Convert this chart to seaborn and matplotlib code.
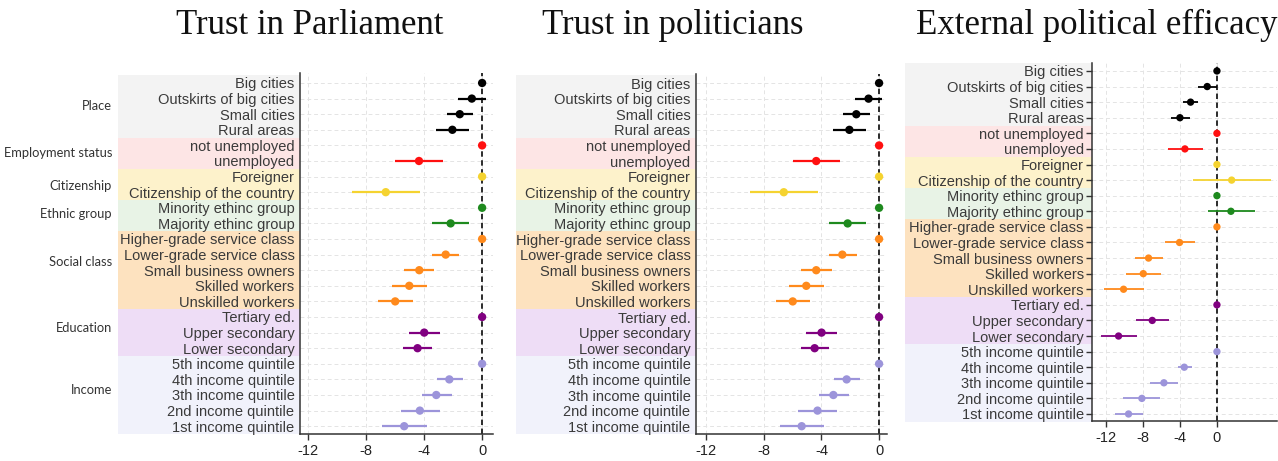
import matplotlib
matplotlib.use("Agg")
import pandas as pd
import matplotlib.pyplot as plt
import matplotlib.transforms as mtransforms
import seaborn as sns

# Row labels (top to bottom) and the group each row belongs to
categories = ["Big cities", "Outskirts of big cities", "Small cities", "Rural areas",
              "not unemployed", "unemployed",
              "Foreigner", "Citizenship of the country",
              "Minority ethinc group", "Majority ethinc group",
              "Higher-grade service class", "Lower-grade service class",
              "Small business owners", "Skilled workers", "Unskilled workers",
              "Tertiary ed.", "Upper secondary", "Lower secondary",
              "5th income quintile", "4th income quintile", "3th income quintile",
              "2nd income quintile", "1st income quintile"]
group_names = ["Place", "Employment status", "Citizenship", "Ethnic group",
               "Social class", "Education", "Income"]
group_sizes = [4, 2, 2, 2, 5, 3, 5]
groups = [g for g, n in zip(group_names, group_sizes) for _ in range(n)]

# Trust in Parliament
parl_est = [0, -0.71, -1.54, -2.05, 0, -4.35, 0, -6.64, 0, -2.17, 0, -2.51, -4.33, -5.02, -5.99,
            0, -3.99, -4.45, 0, -2.26, -3.16, -4.29, -5.37]
parl_lo = [0, -1.64, -2.44, -3.18, 0, -5.99, 0, -8.94, 0, -3.46, 0, -3.48, -5.39, -6.24, -7.19,
           0, -5.07, -5.44, 0, -3.13, -4.17, -5.62, -6.91]
parl_hi = [0, 0.25, -0.65, -0.92, 0, -2.70, 0, -4.29, 0, -0.90, 0, -1.57, -3.29, -3.80, -4.79,
           0, -2.88, -3.46, 0, -1.34, -2.10, -2.88, -3.82]

# Trust in politicians
pol_est = [0, -0.73, -1.58, -2.06, 0, -4.36, 0, -6.61, 0, -2.18, 0, -2.55, -4.36, -5.05, -5.99,
           0, -3.99, -4.47, 0, -2.25, -3.17, -4.27, -5.37]
pol_lo = [0, -1.65, -2.48, -3.17, 0, -5.96, 0, -8.94, 0, -3.44, 0, -3.49, -5.39, -6.24, -7.18,
          0, -5.05, -5.41, 0, -3.12, -4.17, -5.62, -6.88]
pol_hi = [0, 0.23, -0.64, -0.92, 0, -2.71, 0, -4.27, 0, -0.92, 0, -1.56, -3.28, -3.81, -4.77,
          0, -2.94, -3.49, 0, -1.35, -2.11, -2.90, -3.85]

# External political efficacy
eff_est = [0, -1.05, -2.85, -4.00, 0, -3.46, 0, 1.59, 0, 1.51, 0, -4.04, -7.39, -7.96, -10.09,
           0, -6.99, -10.63, 0, -3.53, -5.73, -8.11, -9.55]
eff_lo = [0, -2.09, -3.71, -5.01, 0, -5.33, 0, -2.63, 0, -1.01, 0, -5.66, -8.83, -9.84, -12.25,
          0, -8.76, -12.54, 0, -4.22, -7.21, -10.13, -11.03]
eff_hi = [0, 0.0, -2.02, -2.92, 0, -1.55, 0, 5.84, 0, 4.11, 0, -2.34, -5.87, -6.09, -7.93,
          0, -5.15, -8.68, 0, -2.74, -4.22, -6.16, -8.04]

titles = ["Trust in Parliament", "Trust in politicians", "External political efficacy"]
x_ticks = [-12, -8, -4, 0]

point_colors = {"Place": "#000000", "Employment status": "#FF1010", "Citizenship": "#F5D330",
                "Ethnic group": "#1E8A1E", "Social class": "#FF8A1C", "Education": "#800080",
                "Income": "#9C94DA"}
band_colors = {"Place": "#F3F3F3", "Employment status": "#FDE5E5", "Citizenship": "#FDF2CB",
               "Ethnic group": "#E8F3E6", "Social class": "#FDE2BF", "Education": "#EEDDF6",
               "Income": "#F1F2FB"}
group_label_rows = [1.5, 4.5, 6.6, 8.4, 11.5, 15.7, 19.7]

sns.set_theme(style="white")
plt.rcParams["font.family"] = ["Liberation Sans", "DejaVu Sans"]

W, H = 1278, 461
fig = plt.figure(figsize=(W / 100, H / 100), dpi=100)

# pixel layout of the three panels: axes left/right/top/bottom, band left, title centre
panels = [
    dict(est=parl_est, lo=parl_lo, hi=parl_hi, box=(300, 493, 73, 434), band=118,
         xlim=(-12.55, 0.75), ylim=(22.5, -0.64), tcx=310, s=36, lw=1.6, yticks=False),
    dict(est=pol_est, lo=pol_lo, hi=pol_hi, box=(696, 887, 74, 434), band=516,
         xlim=(-12.7, 0.55), ylim=(22.5, -0.58), tcx=673, s=36, lw=1.6, yticks=False),
    dict(est=eff_est, lo=eff_lo, hi=eff_hi, box=(1092, 1277, 63, 421), band=905,
         xlim=(-13.5, 6.49), ylim=(22.45, -0.51), tcx=1097, s=28, lw=1.3, yticks=True),
]

rows = list(range(len(categories)))
for i, p in enumerate(panels):
    l, r, t, b = p["box"]
    ax = fig.add_axes([l / W, (H - b) / H, (r - l) / W, (b - t) / H])
    df = pd.DataFrame({"row": rows, "cat": categories, "group": groups,
                       "est": p["est"], "lo": p["lo"], "hi": p["hi"]})

    ax.grid(True, color="#E4E4E4", linestyle=(0, (4, 3)), linewidth=0.7)
    ax.set_axisbelow(True)
    ax.axvline(0, color="#2B2B2B", linestyle=(0, (2.8, 1.8)), linewidth=1.4, zorder=1)

    # confidence intervals, then the point estimates
    ax.hlines(df["row"], df["lo"], df["hi"], colors=[point_colors[g] for g in df["group"]],
              linewidth=p["lw"], zorder=2)
    sns.scatterplot(data=df, x="est", y="row", hue="group", palette=point_colors,
                    s=p["s"], edgecolor="none", legend=False, ax=ax, zorder=3)

    ax.set_xlim(*p["xlim"])
    ax.set_ylim(*p["ylim"])
    ax.set_xticks(x_ticks)
    ax.set_xticklabels([str(v) for v in x_ticks])
    ax.set_yticks(rows)
    ax.set_yticklabels(categories)
    ax.set_xlabel("")
    ax.set_ylabel("")
    ax.tick_params(axis="x", length=4, width=1, color="#333333", labelsize=10.5,
                   labelcolor="#222222", pad=3, bottom=True)
    ax.tick_params(axis="y", length=4 if p["yticks"] else 0, width=1, color="#333333",
                   labelsize=10.5, labelcolor="#3A3A3A", pad=2 if p["yticks"] else 4,
                   left=True)
    for side in ["top", "right"]:
        ax.spines[side].set_visible(False)
    for side in ["left", "bottom"]:
        ax.spines[side].set_color("#333333")
        ax.spines[side].set_linewidth(1.1)

    # coloured bands behind the row labels
    trans = mtransforms.blended_transform_factory(fig.transFigure, ax.transData)
    start = 0
    for g, n in zip(group_names, group_sizes):
        rect = plt.Rectangle((p["band"] / W, start - 0.5), (l - p["band"]) / W, n,
                             transform=trans, facecolor=band_colors[g], edgecolor="none",
                             clip_on=False, zorder=-5)
        fig.add_artist(rect)
        start += n

    # group names only on the first panel
    if i == 0:
        for g, yr in zip(group_names, group_label_rows):
            fig.text(112 / W, yr, g, transform=trans, ha="right", va="center",
                     fontsize=9.3, color="#333333", family=["Lato", "DejaVu Sans"])

    fig.text(p["tcx"] / W, 1 - 34 / H, titles[i], ha="center", va="baseline",
             fontsize=25, family=["Liberation Serif", "DejaVu Serif"], color="#111111")

fig.savefig("out.png", dpi=100, facecolor="white")
